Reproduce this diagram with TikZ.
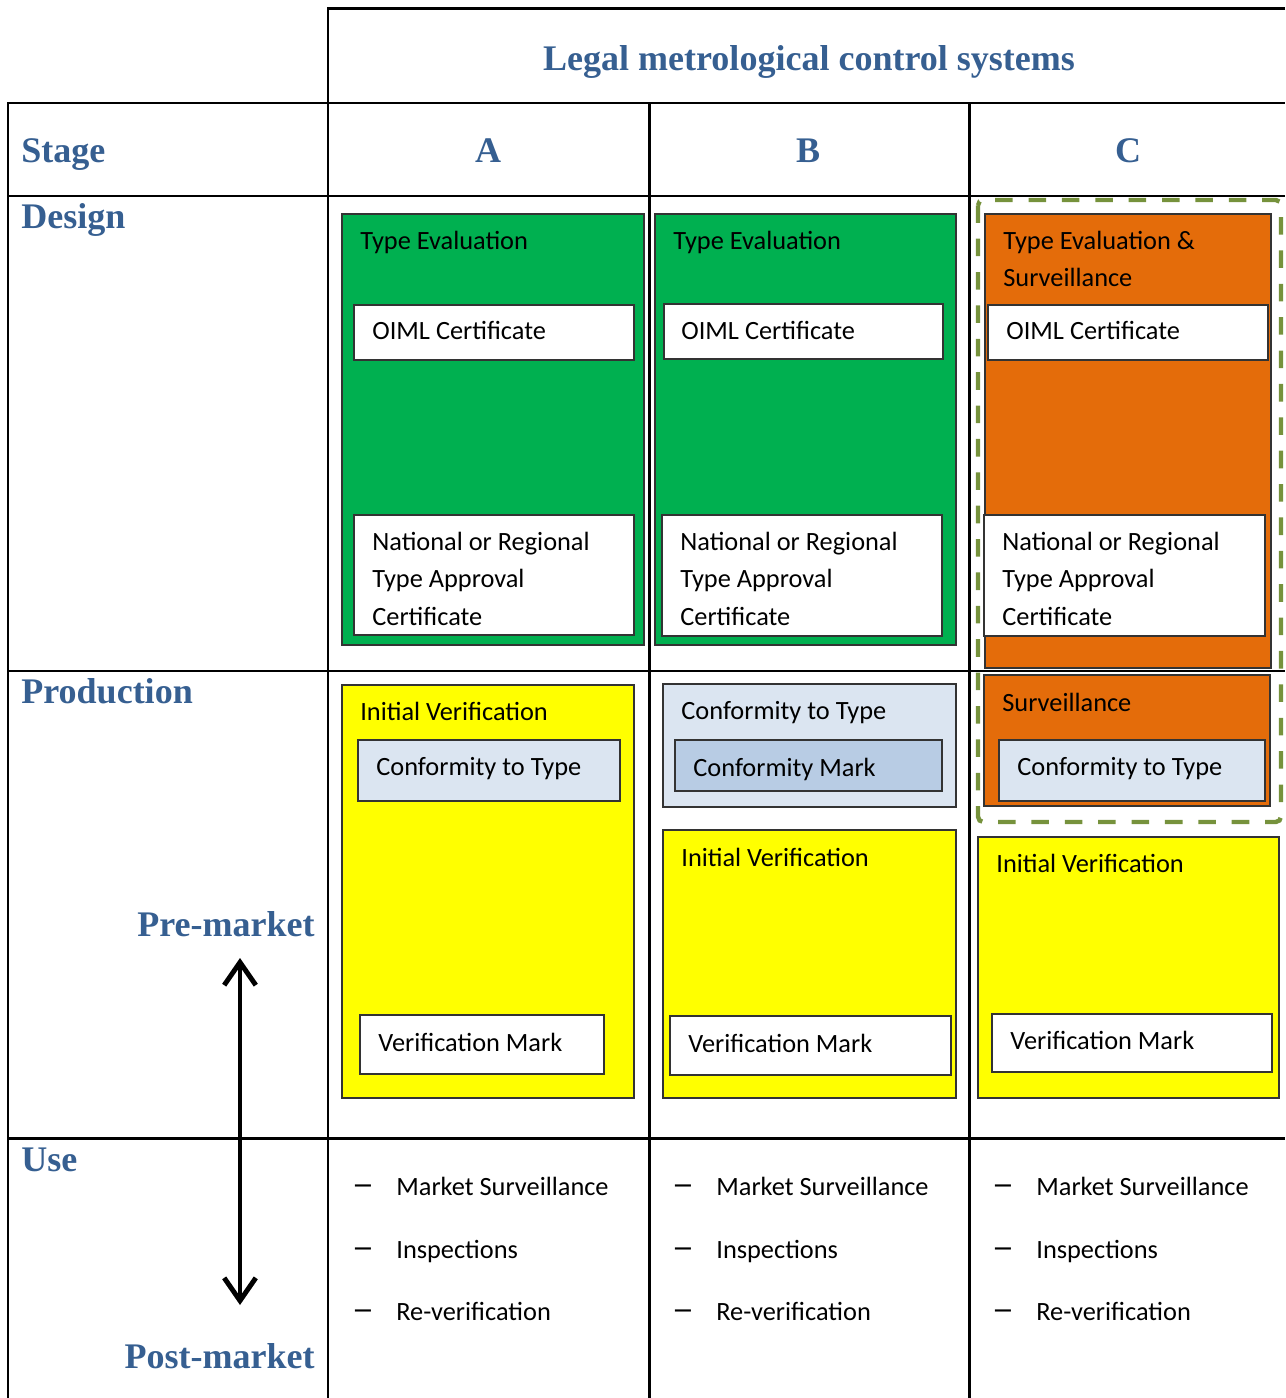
\documentclass[tikz,border=0pt]{standalone}
\usepackage{fontspec}
\setmainfont{Carlito}
\newfontfamily\headfont{Liberation Serif}
\usetikzlibrary{arrows.meta}

\definecolor{headblue}{HTML}{365F91}
\definecolor{typegreen}{HTML}{00B050}
\definecolor{survorange}{HTML}{E46C0A}
\definecolor{verifyellow}{HTML}{FFFF00}
\definecolor{ctblue}{HTML}{DBE5F1}
\definecolor{markblue}{HTML}{B8CCE4}
\definecolor{frameolive}{HTML}{76923C}

\begin{document}
\begin{tikzpicture}[x=0.02cm, y=-0.02cm,
  grid/.style={line width=1.7pt},
  panel/.style={draw=black!80, line width=0.7pt},
  head/.style={anchor=base, inner sep=0pt, text=headblue,
    font=\headfont\bfseries\fontsize{20.5}{24}\selectfont},
  txt/.style={anchor=base west, inner sep=0pt, align=left,
    font=\fontsize{15}{21.3}\selectfont},
  bullet/.style={anchor=base, inner sep=0pt, font=\fontsize{15}{18}\selectfont}]

\useasboundingbox (0,0) rectangle (1285,1398);

% ---- table rules -----------------------------------------------------------------
\draw[grid] (1285,9) -- (328,9) -- (328,1398);
\draw[grid] (8,1398) -- (8,103) -- (1285,103);
\draw[grid] (8,196) -- (1285,196);
\draw[grid] (8,671) -- (1285,671);
\draw[grid] (8,1138) -- (1285,1138);
\draw[grid] (649,103) -- (649,1398);
\draw[grid] (969,103) -- (969,1398);

% ---- headings --------------------------------------------------------------------
\node[head] (title) at (809,71) {Legal metrological control systems};
\node[head, anchor=base west] (stage) at (21,163) {Stage};
\node[head] (colA) at (488,163) {A};
\node[head] (colB) at (808,163) {B};
\node[head] (colC) at (1128,163) {C};
\node[head, anchor=base west] (design) at (21,229) {Design};
\node[head, anchor=base west] (production) at (21,703) {Production};
\node[head, anchor=base west] (use) at (21,1171) {Use};
\node[head, anchor=base east] (premkt) at (315,936) {Pre-market};
\node[head, anchor=base east] (postmkt) at (315,1368) {Post-market};

% ---- pre-/post-market arrow ------------------------------------------------------
\coordinate (pretip) at (240,958);
\coordinate (posttip) at (240,1305);
\draw[{Straight Barb[length=13pt, width=18pt]}-{Straight Barb[length=13pt, width=18pt]},
  line width=2.8pt] (pretip) -- (posttip);

% ---- system A (multi-line labels sit on their last baseline) ----------------------
\draw[panel, fill=typegreen] (342,214) rectangle (644,645);
\node[txt] (teA) at (360,250) {Type Evaluation};
\draw[panel, fill=white] (354,305) rectangle (634,360);
\node[txt] (oimlA) at (372,340) {OIML Certificate};
\draw[panel, fill=white] (354,515) rectangle (634,635);
\node[txt] (natA) at (372,625) {National or Regional\\Type Approval\\Certificate};

\draw[panel, fill=verifyellow] (342,685) rectangle (634,1098);
\node[txt] (ivA) at (360,720) {Initial Verification};
\draw[panel, fill=ctblue] (358,740) rectangle (620,801);
\node[txt] (cttA) at (376,775) {Conformity to Type};
\draw[panel, fill=white] (360,1015) rectangle (604,1074);
\node[txt] (vmA) at (378,1051) {Verification Mark};

% ---- system B --------------------------------------------------------------------
\draw[panel, fill=typegreen] (655,214) rectangle (956,645);
\node[txt] (teB) at (673,250) {Type Evaluation};
\draw[panel, fill=white] (664,304) rectangle (943,359);
\node[txt] (oimlB) at (681,340) {OIML Certificate};
\draw[panel, fill=white] (662,515) rectangle (942,636);
\node[txt] (natB) at (680,625) {National or Regional\\Type Approval\\Certificate};

\draw[panel, fill=ctblue] (663,684) rectangle (956,807);
\node[txt] (cttB) at (681,719) {Conformity to Type};
\draw[panel, fill=markblue] (675,740) rectangle (942,791);
\node[txt] (cmB) at (693,776) {Conformity Mark};
\draw[panel, fill=verifyellow] (663,830) rectangle (956,1098);
\node[txt] (ivB) at (681,866) {Initial Verification};
\draw[panel, fill=white] (670,1016) rectangle (951,1075);
\node[txt] (vmB) at (688,1052) {Verification Mark};

% ---- system C --------------------------------------------------------------------
\draw[panel, fill=survorange] (985,214) rectangle (1271,668);
\node[txt] (teC) at (1003,287) {Type Evaluation \&\\Surveillance};
\draw[panel, fill=white] (988,305) rectangle (1268,360);
\node[txt] (oimlC) at (1006,340) {OIML Certificate};
\draw[panel, fill=white] (984,515) rectangle (1265,636);
\node[txt] (natC) at (1002,625) {National or Regional\\Type Approval\\Certificate};

\draw[panel, fill=survorange] (984,675) rectangle (1270,806);
\node[txt] (survC) at (1002,711) {Surveillance};
\draw[panel, fill=ctblue] (999,740) rectangle (1265,801);
\node[txt] (cttC) at (1017,775) {Conformity to Type};
\draw[frameolive, line width=2.5pt, dash pattern=on 10pt off 9pt, rounded corners=3pt]
  (978,200) rectangle (1281,822);

\draw[panel, fill=verifyellow] (978,837) rectangle (1279,1098);
\node[txt] (ivC) at (996,872) {Initial Verification};
\draw[panel, fill=white] (992,1014) rectangle (1272,1072);
\node[txt] (vmC) at (1010,1049) {Verification Mark};

% ---- use stage, same list in every column ----------------------------------------
\foreach \c/\x in {A/363, B/683, C/1003} {
  \node[bullet] (dmsu\c) at (\x,1195) {\scalebox{1.7}[1.3]{–}};
  \node[txt] (msu\c) at (\x+33,1195) {Market Surveillance};
  \node[bullet] (dins\c) at (\x,1258) {\scalebox{1.7}[1.3]{–}};
  \node[txt] (ins\c) at (\x+33,1258) {Inspections};
  \node[bullet] (drev\c) at (\x,1320) {\scalebox{1.7}[1.3]{–}};
  \node[txt] (rev\c) at (\x+33,1320) {Re-verification};
}

\end{tikzpicture}
\end{document}
